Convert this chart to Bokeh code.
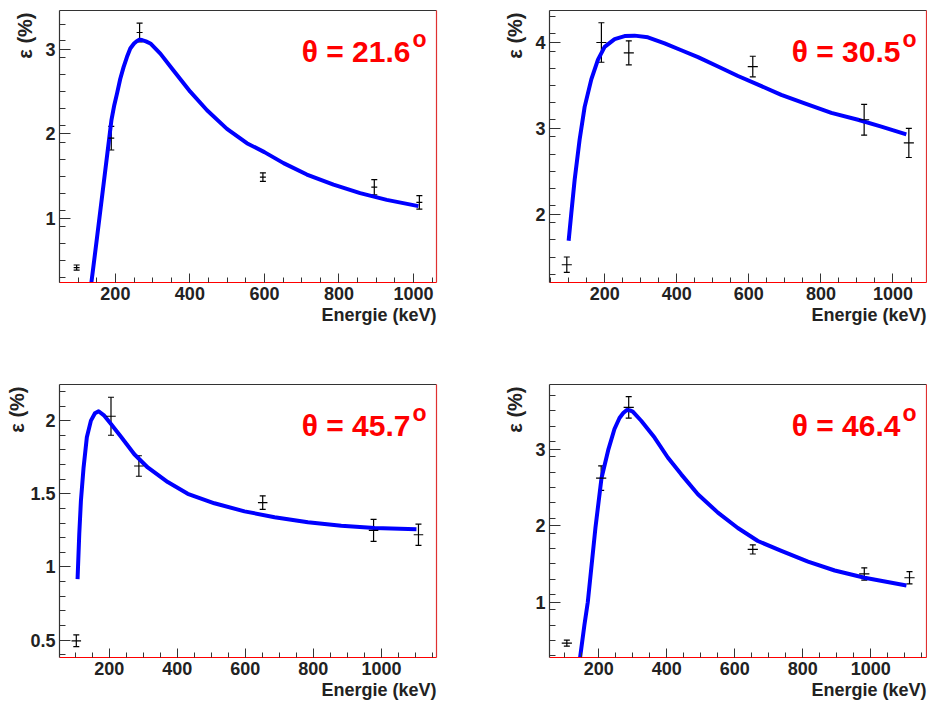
import numpy as np
from bokeh.plotting import figure
from bokeh.models import (FixedTicker, Label, Whisker, TeeHead, ColumnDataSource,
                          LinearAxis, Range1d, Title)
from bokeh.layouts import column, row
from bokeh.embed import file_html
from bokeh.resources import INLINE

# ---------------- data ----------------
angles = ["21.6", "30.5", "45.7", "46.4"]

p1_x = [96, 189, 265, 596, 895, 1016]
p1_y = [0.42, 1.95, 3.20, 1.49, 1.37, 1.19]
p1_yerr = [0.03, 0.14, 0.11, 0.05, 0.09, 0.08]
p1_xerr = [8, 8, 8, 8, 8, 8]
p1_curve_x = [135.6, 150.9, 157, 189.3, 197, 204.5, 213, 222, 231, 240, 250, 258, 265, 271.5, 282,
              294, 320.7, 356, 401, 446, 499.5, 553, 600, 651.4, 714, 785.5, 857, 928.5, 1013.5]
p1_curve_y = [0.243, 0.78, 1.0, 2.16, 2.34, 2.48, 2.65, 2.79, 2.91, 3.01, 3.07, 3.10, 3.115, 3.11,
              3.095, 3.07, 2.95, 2.75, 2.50, 2.28, 2.06, 1.89, 1.785, 1.655, 1.52, 1.40, 1.30,
              1.22, 1.146]
p1_xlim = (50, 1062)
p1_ylim = (0.243, 3.46)
p1_yticks = [1, 2, 3]

p2_x = [95, 191, 267, 611, 920, 1044]
p2_y = [1.41, 4.00, 3.88, 3.72, 3.10, 2.83]
p2_yerr = [0.09, 0.23, 0.14, 0.12, 0.18, 0.17]
p2_xerr = [14, 14, 14, 14, 14, 14]
p2_curve_x = [100.1, 107.5, 116.8, 130.6, 144.5, 163, 181.5, 200, 227.7, 255.5, 283, 320,
              366.5, 412.7, 459, 514.5, 570, 625.5, 690, 755, 829, 903, 967.7, 1037]
p2_curve_y = [1.69, 2.01, 2.40, 2.87, 3.25, 3.57, 3.80, 3.95, 4.04, 4.075, 4.08, 4.06,
              3.99, 3.91, 3.83, 3.72, 3.61, 3.51, 3.39, 3.29, 3.18, 3.10, 3.02, 2.93]
p2_xlim = (47, 1093)
p2_ylim = (1.203, 4.373)
p2_yticks = [2, 3, 4]

p3_x = [103, 205, 287, 651, 977, 1109]
p3_y = [0.495, 2.03, 1.69, 1.44, 1.25, 1.22]
p3_yerr = [0.04, 0.13, 0.07, 0.046, 0.075, 0.073]
p3_xerr = [14, 14, 14, 14, 14, 14]
p3_curve_x = [106.7, 111.7, 116.6, 124.4, 134, 146, 157.8, 168.6, 185.3, 205, 234.4, 273.6,
              313, 371.8, 430.7, 509, 597.5, 686, 784, 882, 980, 1103]
p3_curve_y = [0.917, 1.225, 1.453, 1.68, 1.886, 2.0, 2.05, 2.064, 2.034, 1.977, 1.89, 1.77,
              1.68, 1.58, 1.50, 1.435, 1.38, 1.34, 1.305, 1.282, 1.266, 1.257]
p3_xlim = (53.6, 1162)
p3_ylim = (0.381, 2.247)
p3_yticks = [0.5, 1, 1.5, 2]

p4_x = [106, 207, 288, 653, 981, 1114]
p4_y = [0.467, 2.62, 3.545, 1.69, 1.37, 1.32]
p4_yerr = [0.04, 0.16, 0.14, 0.06, 0.08, 0.08]
p4_xerr = [15, 15, 15, 15, 15, 15]
p4_curve_x = [145, 157.8, 167.6, 190.2, 207.9, 228.5, 246.1, 260.9, 272, 282.5, 292, 300, 324.7,
              364, 403, 442.5, 491.5, 550.4, 609, 668, 737, 815.5, 894, 982, 1105]
p4_curve_y = [0.279, 0.707, 1.0, 1.974, 2.62, 3.0, 3.262, 3.406, 3.47, 3.51, 3.505, 3.49, 3.37,
              3.15, 2.89, 2.67, 2.41, 2.17, 1.97, 1.80, 1.67, 1.53, 1.415, 1.32, 1.22]
p4_xlim = (55, 1164)
p4_ylim = (0.279, 3.843)
p4_yticks = [1, 2, 3]

x_ticks = [200, 400, 600, 800, 1000]
x_minor = list(range(50, 1200, 50))

FONT = "Liberation Sans"
DARK = "#333333"


def make_panel(angle, px, py, pyerr, pxerr, cx, cy, xlim, ylim, yticks, ystep,
               width, height, bl, br, bt, bb, ytitle_standoff):
    p = figure(width=width, height=height, x_range=Range1d(*xlim), y_range=Range1d(*ylim),
               output_backend="svg", toolbar_location=None,
               min_border_left=bl, min_border_right=br, min_border_top=bt, min_border_bottom=bb)
    p.outline_line_color = None
    p.grid.visible = False
    p.background_fill_color = "white"
    p.border_fill_color = "white"

    ymin_ticks = [round(v, 3) for v in np.arange(0.1, 5.0, ystep)]

    xa = p.xaxis[0]
    xa.ticker = FixedTicker(ticks=x_ticks, minor_ticks=x_minor)
    ya = p.yaxis[0]
    ya.ticker = FixedTicker(ticks=yticks, minor_ticks=ymin_ticks)
    ya.major_label_overrides = {t: (str(t) if t != int(t) else str(int(t))) for t in yticks}
    for ax, line_col, tin, tmin in ((xa, "red", 9, 5), (ya, DARK, 11, 6)):
        ax.axis_line_color = line_col
        ax.axis_line_width = 1.2
        ax.major_tick_line_color = DARK
        ax.minor_tick_line_color = DARK
        ax.major_tick_in = tin
        ax.major_tick_out = 0
        ax.minor_tick_in = tmin
        ax.minor_tick_out = 0
        ax.major_label_text_font = FONT
        ax.major_label_text_font_style = "bold"
        ax.major_label_text_font_size = "18px"
        ax.major_label_text_color = "#222222"
        ax.major_label_standoff = 4

    # frame sides: dark top, red right
    for side, col in (("above", DARK), ("right", "#e03030")):
        a = LinearAxis(ticker=FixedTicker(ticks=[]), axis_line_color=col, axis_line_width=1.2,
                       major_tick_line_color=None, minor_tick_line_color=None,
                       major_label_text_font_size="0px", major_label_standoff=0,
                       major_tick_out=0, minor_tick_out=0)
        p.add_layout(a, side)

    # axis titles (right-aligned, ROOT style)
    p.add_layout(Title(text="ε (%)", align="right", text_font=FONT, text_font_style="bold",
                       text_font_size="20px", text_color="#222222",
                       standoff=ytitle_standoff, offset=2), "left")
    p.add_layout(Title(text="Energie (keV)", align="right", text_font=FONT,
                       text_font_style="bold", text_font_size="18px", text_color="#222222",
                       standoff=0), "below")

    # fit curve
    p.line(cx, cy, line_color="#0000ff", line_width=4, line_join="round")

    # data points with error bars
    src = ColumnDataSource(dict(
        x=px, y=py,
        lo=[a - b for a, b in zip(py, pyerr)], hi=[a + b for a, b in zip(py, pyerr)],
        xl=[a - b for a, b in zip(px, pxerr)], xh=[a + b for a, b in zip(px, pxerr)]))
    w = Whisker(base="x", upper="hi", lower="lo", source=src, dimension="height",
                line_color="black", line_width=1.2,
                upper_head=TeeHead(size=6, line_color="black", line_width=1.2),
                lower_head=TeeHead(size=6, line_color="black", line_width=1.2))
    p.add_layout(w)
    p.segment(x0="xl", y0="y", x1="xh", y1="y", source=src, line_color="black", line_width=1.2)

    # angle label
    p.add_layout(Label(x=xlim[1], y=ylim[1], x_offset=-26, y_offset=-41,
                       text="θ = " + angle, text_align="right", text_baseline="alphabetic",
                       text_color="#ff0000", text_font=FONT, text_font_style="bold",
                       text_font_size="30px"))
    p.add_layout(Label(x=xlim[1], y=ylim[1], x_offset=-24, y_offset=-28,
                       text="o", text_align="left", text_baseline="alphabetic",
                       text_color="#ff0000", text_font=FONT, text_font_style="bold",
                       text_font_size="23px"))
    return p


f1 = make_panel(angles[0], p1_x, p1_y, p1_yerr, p1_xerr, p1_curve_x, p1_curve_y,
                p1_xlim, p1_ylim, p1_yticks, 0.2, 446, 327, 59, 10, 10, 45, 14)
f2 = make_panel(angles[1], p2_x, p2_y, p2_yerr, p2_xerr, p2_curve_x, p2_curve_y,
                p2_xlim, p2_ylim, p2_yticks, 0.2, 481, 327, 103, 1, 10, 45, 14)
f3 = make_panel(angles[2], p3_x, p3_y, p3_yerr, p3_xerr, p3_curve_x, p3_curve_y,
                p3_xlim, p3_ylim, p3_yticks, 0.1, 446, 374, 59, 10, 57, 44, 0)
f4 = make_panel(angles[3], p4_x, p4_y, p4_yerr, p4_xerr, p4_curve_x, p4_curve_y,
                p4_xlim, p4_ylim, p4_yticks, 0.2, 481, 374, 103, 1, 57, 44, 14)

layout = column(row(f1, f2), row(f3, f4))
open("out.html", "w").write(file_html(layout, INLINE))
